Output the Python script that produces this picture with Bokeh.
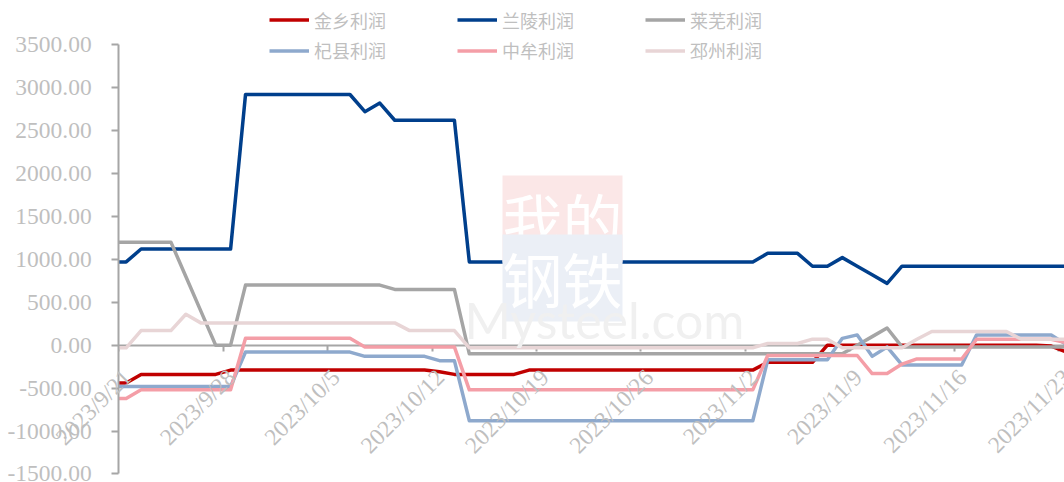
import math
import pandas as pd
from bokeh.plotting import figure
from bokeh.models import (ColumnDataSource, Legend, LegendItem, FixedTicker,
                          NumeralTickFormatter, Range1d, Label, LabelSet)
from bokeh.embed import file_html
from bokeh.resources import INLINE

# ---------------- data ----------------
dates = pd.date_range("2023-09-20", "2023-11-23", freq="D")

jinxiang = [-440, -440,
            -340, -340, -340, -340, -340, -340,
            -290, -290, -290, -290, -290, -290, -290, -290, -290, -290, -290, -290, -290, -290,
            -310,
            -340, -340, -340, -340, -340,
            -290, -290, -290, -290, -290, -290, -290, -290, -290, -290, -290, -290, -290, -290, -290, -290,
            -200, -200, -200, -200,
            0, 0, 0, 0, 0, 0, 0, 0, 0, 0, 0, 0, 0, 0, 0,
            -10, -80]

lanling = [970, 970,
           1120, 1120, 1120, 1120, 1120, 1120, 1120,
           2920, 2920, 2920, 2920, 2920, 2920, 2920, 2920,
           2720, 2820,
           2620, 2620, 2620, 2620, 2620,
           970, 970, 970, 970, 970, 970, 970, 970, 970, 970,
           970, 970, 970, 970, 970, 970, 970, 970, 970, 970,
           1070, 1070, 1070,
           920, 920, 1020, 920, 820, 720,
           920, 920, 920, 920, 920, 920, 920, 920, 920, 920, 920, 920]

laiwu = [1200, 1200, 1200, 1200, 1200,
         800, 400, 0, 0,
         700, 700, 700, 700, 700, 700, 700, 700, 700, 700,
         650, 650, 650, 650, 650,
         -100, -100, -100, -100, -100, -100, -100, -100, -100, -100, -100, -100, -100,
         -100, -100, -100, -100, -100, -100, -100, -100, -100, -100, -100, -100, -100,
         0, 100, 200,
         -20, -20, -20, -20, -20, -20, -20, -20, -20, -20, -20, -20]

qixian = [-480, -480, -480, -480, -480, -480, -480, -480, -480,
          -80, -80, -80, -80, -80, -80, -80, -80,
          -130, -130, -130, -130, -130,
          -180, -180,
          -880, -880, -880, -880, -880, -880, -880, -880, -880, -880,
          -880, -880, -880, -880, -880, -880, -880, -880, -880, -880,
          -170, -170, -170, -170, -170,
          80, 120, -130, -20,
          -230, -230, -230, -230, -230,
          120, 120, 120, 120, 120, 120,
          10]

zhongmou = [-620, -620,
            -520, -520, -520, -520, -520, -520, -520,
            80, 80, 80, 80, 80, 80, 80, 80,
            -20, -20, -20, -20, -20, -20, -20,
            -520, -520, -520, -520, -520, -520, -520, -520, -520, -520,
            -520, -520, -520, -520, -520, -520, -520, -520, -520, -520,
            -120, -120, -120, -120, -120, -120, -120,
            -330, -330, -220,
            -160, -160, -160, -160,
            70, 70, 70, 70, 70, 70,
            30]

pizhou = [-30, -30,
          170, 170, 170,
          360,
          260, 260, 260, 260, 260, 260, 260, 260, 260, 260, 260, 260, 260, 260,
          170, 170, 170, 170,
          -30, -30, -30, -30, -30, -30, -30, -30, -30, -30,
          -30, -30, -30, -30, -30, -30, -30, -30, -30, -30,
          20, 20, 20,
          70, 70,
          -30, -30, -30, -30, -30,
          70,
          160, 160, 160, 160, 160, 160,
          70, 70, 70, 70]

series_names = ["金乡利润", "兰陵利润", "莱芜利润", "杞县利润", "中牟利润", "邳州利润"]
series_values = [jinxiang, lanling, laiwu, qixian, zhongmou, pizhou]
series_colors = ["#C00000", "#003F8C", "#A5A5A5", "#8EA9CD", "#F49EA7", "#E8D5D6"]

x_tick_labels = ["2023/9/21", "2023/9/28", "2023/10/5", "2023/10/12", "2023/10/19",
                 "2023/10/26", "2023/11/2", "2023/11/9", "2023/11/16", "2023/11/23"]
y_ticks = [-1500, -1000, -500, 0, 500, 1000, 1500, 2000, 2500, 3000, 3500]

# ---------------- layout constants (pixels -> data) ----------------
W, H = 1064, 482
PX_PER_DAY = 14.92          # horizontal scale
PX_PER_UNIT = 0.08586       # vertical scale
AXIS_X_PX = 118.2           # y-axis position from the left edge
ZERO_Y_PX = 344.7           # zero line from the top edge

axis_start = pd.Timestamp("2023-09-21")
x_start = axis_start - pd.Timedelta(days=AXIS_X_PX / PX_PER_DAY)
x_end = axis_start + pd.Timedelta(days=(W - AXIS_X_PX) / PX_PER_DAY)
y_top = ZERO_Y_PX / PX_PER_UNIT
y_bottom = -(H - ZERO_Y_PX) / PX_PER_UNIT

p = figure(width=W, height=H, output_backend="svg", toolbar_location=None,
           x_axis_type="datetime",
           x_range=Range1d(x_start, x_end), y_range=Range1d(y_bottom, y_top),
           min_border_left=0, min_border_right=0, min_border_top=0, min_border_bottom=0)
p.outline_line_color = None
p.xgrid.visible = False
p.ygrid.visible = False
p.background_fill_color = "white"

label_font = "Liberation Serif"
label_color = "#BFBFBF"
axis_color = "#A6A6A6"

# watermark (faint)
wm_x = axis_start + pd.Timedelta(days=(502 - AXIS_X_PX) / PX_PER_DAY)
p.add_layout(Label(x=wm_x, y=1977, text="我的",
                   text_font="Noto Sans CJK SC", text_font_size="60px", text_line_height=0.93,
                   text_color="white", background_fill_color="#FBE7E7",
                   text_baseline="top", text_align="left"))
p.add_layout(Label(x=wm_x, y=1290, text="钢铁",
                   text_font="Noto Sans CJK SC", text_font_size="60px", text_line_height=0.93,
                   text_color="white", background_fill_color="#EBEFF6",
                   text_baseline="top", text_align="left"))
p.add_layout(Label(x=axis_start + pd.Timedelta(days=(464 - AXIS_X_PX) / PX_PER_DAY), y=288,
                   text="Mysteel.com",
                   text_font="Lato", text_font_size="50px", text_color="#F0F0F0",
                   text_baseline="alphabetic", text_align="left"))

xs = dates + pd.Timedelta(hours=12)
renderers = []
for name, vals, col in zip(series_names, series_values, series_colors):
    src = ColumnDataSource(dict(x=xs, y=vals))
    r = p.line("x", "y", source=src, line_color=col, line_width=3.5, line_join="round")
    renderers.append((name, r))

# white mask left of the value axis (plays the role of the plot-area clip)
p.quad(left=[x_start], right=[axis_start], bottom=[y_bottom], top=[y_top],
       fill_color="white", line_color=None)

axis_start_ms = int(axis_start.value // 10**6)
x_end_ms = int(x_end.value // 10**6)

# y axis, fixed at the first date
yax = p.yaxis[0]
yax.fixed_location = axis_start_ms
yax.bounds = (y_ticks[0], y_ticks[-1])
yax.ticker = FixedTicker(ticks=y_ticks)
yax.formatter = NumeralTickFormatter(format="0.00")
yax.axis_line_color = axis_color
yax.axis_line_width = 2
yax.major_tick_line_color = axis_color
yax.major_tick_line_width = 2
yax.major_tick_out = 7
yax.major_tick_in = 0
yax.minor_tick_line_color = None
yax.major_label_text_font = label_font
yax.major_label_text_font_size = "23.5px"
yax.major_label_text_color = label_color
yax.major_label_standoff = 20

# x axis along the zero line (labels drawn separately, rotated)
tick_ts = [pd.to_datetime(t, format="%Y/%m/%d") for t in x_tick_labels]
tick_ms = [int(t.value // 10**6) for t in tick_ts]
xax = p.xaxis[0]
xax.fixed_location = 0
xax.bounds = (axis_start_ms, x_end_ms)
xax.level = "underlay"
xax.ticker = FixedTicker(ticks=tick_ms)
xax.major_label_overrides = {ms: "" for ms in tick_ms}
xax.axis_line_color = axis_color
xax.axis_line_width = 2
xax.major_tick_line_color = axis_color
xax.major_tick_line_width = 2
xax.major_tick_out = 6
xax.major_tick_in = 0
xax.minor_tick_line_color = None

# rotated date labels: top-right corner of each label just below its tick
lab_dx = pd.Timedelta(days=-1.0 / PX_PER_DAY)
lab_y = -19.0 / PX_PER_UNIT
lab_src = ColumnDataSource(dict(x=[t + lab_dx for t in tick_ts],
                                y=[lab_y] * len(tick_ts), text=x_tick_labels))
p.add_layout(LabelSet(x="x", y="y", text="text", source=lab_src,
                      angle=math.pi / 4, text_align="right", text_baseline="top",
                      text_font=label_font, text_font_size="23.5px",
                      text_color=label_color))

legend_kw = dict(orientation="horizontal", glyph_width=40, glyph_height=21,
                 label_height=21, label_width=133, label_standoff=5, spacing=10,
                 padding=0, margin=0, border_line_color=None, background_fill_alpha=0,
                 label_text_font="Noto Sans CJK SC", label_text_font_size="18px",
                 label_text_color=label_color)
items = [LegendItem(label=n, renderers=[r]) for n, r in renderers]
p.add_layout(Legend(items=items[:3], location=(269, H - 32.5), **legend_kw), "center")
p.add_layout(Legend(items=items[3:], location=(269, H - 63), **legend_kw), "center")

open("out.html", "w").write(file_html(p, INLINE))
